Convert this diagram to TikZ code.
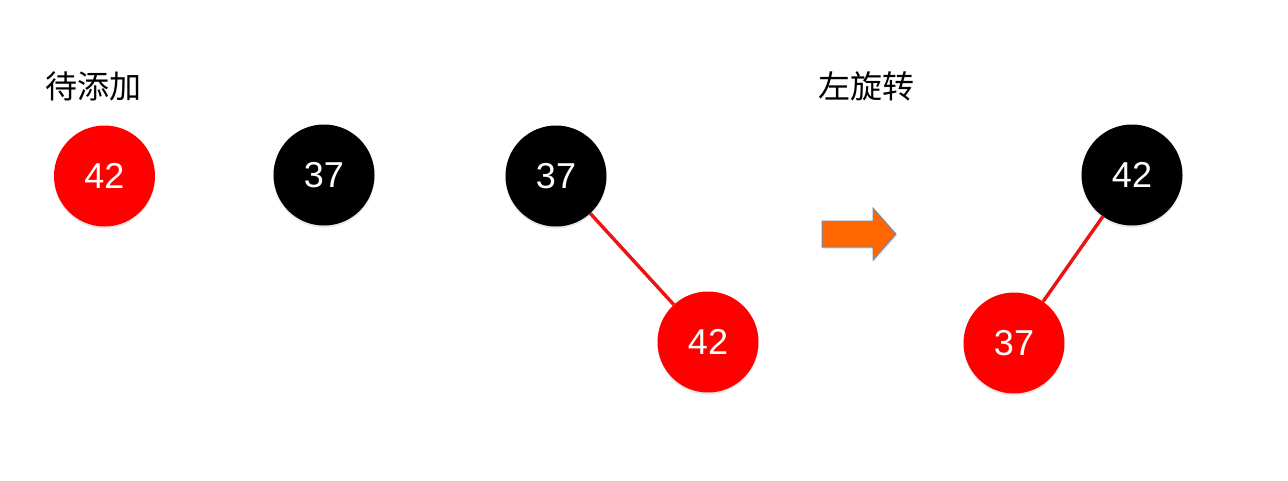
\documentclass[tikz,border=0pt]{standalone}
\usepackage{fontspec}
\setmainfont{Liberation Sans}
\newfontfamily\cjk{Noto Sans CJK SC}
\usetikzlibrary{shadows}
\definecolor{rbred}{RGB}{255,0,0}
\definecolor{edgered}{RGB}{235,20,20}
\definecolor{arrorange}{RGB}{255,102,0}
\definecolor{arredge}{RGB}{110,140,180}
\tikzset{
  nd/.style={circle, minimum size=101pt, inner sep=0pt, text=white,
    font=\fontsize{36}{36}\selectfont,
    drop shadow={opacity=0.2, shadow xshift=0pt, shadow yshift=-2pt}},
  rednd/.style={nd, fill=rbred},
  blacknd/.style={nd, fill=black},
  edge/.style={draw=edgered, line width=3.4pt},
  lbl/.style={font=\cjk\fontsize{32}{32}\selectfont, text=black, inner sep=0pt},
  bigarrow/.style={fill=arrorange, draw=arredge, line width=1pt, line join=miter,
    drop shadow={opacity=0.2, shadow xshift=1pt, shadow yshift=-2pt}}
}
\begin{document}
\begin{tikzpicture}[x=1pt,y=-1pt]
\useasboundingbox (0,0) rectangle (1288,480);
\node[lbl] (t1) at (93.5,86) {待添加};
\node[lbl] (t2) at (866,86) {左旋转};
\node[rednd] (a) at (104.5,176) {42};
\node[blacknd] (b) at (324,175) {37};
\node[blacknd] (c) at (556,176) {37};
\node[rednd] (d) at (708,342) {42};
\node[blacknd] (e) at (1132,175) {42};
\node[rednd] (f) at (1014,343) {37};
\draw[edge] (c) -- (d);
\draw[edge] (e) -- (f);
\path[bigarrow] (822,221) -- (873,221) -- (873,208) -- (896,234) -- (873,260) -- (873,247) -- (822,247) -- cycle;
\end{tikzpicture}
\end{document}
